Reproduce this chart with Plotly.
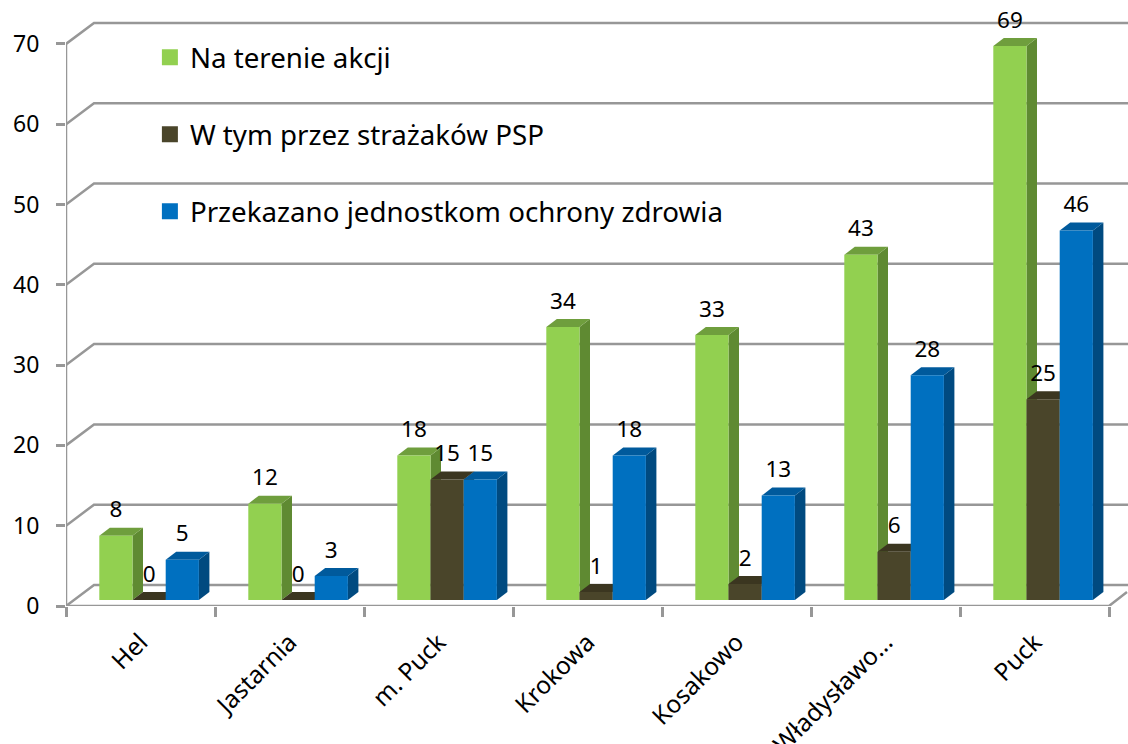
import plotly.graph_objects as go

categories = ["Hel", "Jastarnia", "m. Puck", "Krokowa", "Kosakowo", "Władysławo...", "Puck"]
na_terenie = [8, 12, 18, 34, 33, 43, 69]
strazacy = [0, 0, 15, 1, 2, 6, 25]
przekazano = [5, 3, 15, 18, 13, 28, 46]
y_ticks = [0, 10, 20, 30, 40, 50, 60, 70]

series = [
    ("Na terenie akcji", na_terenie, "#92D050", "#6F9E3D", "#5F8A32"),
    ("W tym przez strażaków PSP", strazacy, "#4A452A", "#3B3620", "#38331E"),
    ("Przekazano jednostkom ochrony zdrowia", przekazano, "#0070C0", "#005A9C", "#004A80"),
]

PX_X = 149.0
PX_Y = 8.03
L, B, W, H = 66, 138, 1128, 744
XMAX = (W - L) / PX_X
YMAX = (H - B) / PX_Y
GRID = "#979797"
FONT = "Noto Sans"

bar_w = 33.2 / PX_X
bar_start = 33.3 / PX_X
lift = 6 / PX_Y
side_dx = 10.5 / PX_X
side_dy = 8 / PX_Y
wall_dx = 28 / PX_X
wall_dy = 21 / PX_Y
label_gap = 24 / PX_Y

fig = go.Figure()

for v in y_ticks:
    fig.add_trace(go.Scatter(
        x=[0, wall_dx, XMAX], y=[v, v + wall_dy, v + wall_dy], mode="lines",
        line=dict(color=GRID, width=2.5), showlegend=False, hoverinfo="skip", cliponaxis=False))

fig.add_trace(go.Scatter(
    x=[0, 7, 7 + 18 / PX_X], y=[0, 0, 14 / PX_Y], mode="lines",
    line=dict(color=GRID, width=2.5), showlegend=False, hoverinfo="skip", cliponaxis=False))
fig.add_trace(go.Scatter(
    x=[0, 0], y=[0, y_ticks[-1]], mode="lines",
    line=dict(color=GRID, width=2.5), showlegend=False, hoverinfo="skip", cliponaxis=False))

for s, (name, vals, front, top, side) in enumerate(series):
    for c, v in enumerate(vals):
        x0 = c + bar_start + s * bar_w
        x1 = x0 + bar_w
        y0, y1 = lift, lift + v
        fig.add_trace(go.Scatter(
            x=[x1, x1 + side_dx, x1 + side_dx, x1, x1],
            y=[y0, y0 + side_dy, y1 + side_dy, y1, y0],
            mode="lines", fill="toself", fillcolor=side, line=dict(width=0),
            showlegend=False, hoverinfo="skip"))
        fig.add_trace(go.Scatter(
            x=[x0, x1, x1 + side_dx, x0 + side_dx, x0],
            y=[y1, y1, y1 + side_dy, y1 + side_dy, y1],
            mode="lines", fill="toself", fillcolor=top, line=dict(width=0),
            showlegend=False, hoverinfo="skip"))

for s, (name, vals, front, top, side) in enumerate(series):
    fig.add_trace(go.Bar(
        x=[c + bar_start + (s + 0.5) * bar_w for c in range(len(vals))],
        y=vals, base=lift, width=bar_w, name=name,
        marker=dict(color=front, line=dict(width=0)),
        showlegend=False, xaxis="x2", yaxis="y2"))

for s, (name, vals, front, top, side) in enumerate(series):
    fig.add_trace(go.Scatter(
        x=[c + bar_start + (s + 0.5) * bar_w for c in range(len(vals))],
        y=[v + lift + label_gap for v in vals],
        text=[str(v) for v in vals], mode="text", textposition="middle center",
        textfont=dict(family=FONT, size=22.5, color="#000000"),
        showlegend=False, hoverinfo="skip", cliponaxis=False, xaxis="x2", yaxis="y2"))

for name, vals, front, top, side in series:
    fig.add_trace(go.Scatter(
        x=[None], y=[None], mode="markers", name=name, legendgroup=name,
        marker=dict(symbol="square", size=16, color=front), xaxis="x2", yaxis="y2"))

fig.update_layout(
    width=W, height=H,
    margin=dict(l=L, r=0, t=0, b=B, pad=0),
    paper_bgcolor="#FFFFFF", plot_bgcolor="#FFFFFF",
    barmode="overlay",
    font=dict(family=FONT, color="#000000", size=23),
    xaxis=dict(
        range=[0, XMAX], showgrid=False, zeroline=False, showline=False,
        tickmode="array", tickvals=[c + 0.5 for c in range(len(categories))],
        ticktext=categories, tickangle=-45, ticks="", tickfont=dict(family=FONT, size=24.5),
        ticklabelstandoff=16,
        minor=dict(tickmode="array", tickvals=list(range(len(categories) + 1)),
                   ticks="outside", ticklen=10, tickwidth=2.5, tickcolor=GRID, showgrid=False),
        automargin=False),
    yaxis=dict(
        range=[0, YMAX], showgrid=False, zeroline=False, showline=False,
        tickmode="array", tickvals=y_ticks, ticks="outside", ticklen=9, tickwidth=2.5,
        tickcolor=GRID, tickfont=dict(family=FONT, size=23), automargin=False,
        ticklabelstandoff=12),
    xaxis2=dict(overlaying="x", matches="x", visible=False),
    yaxis2=dict(overlaying="y", matches="y", visible=False),
    legend=dict(
        x=0.079, y=0.946, xanchor="left", yanchor="top", bgcolor="rgba(0,0,0,0)",
        font=dict(family=FONT, size=27.7, color="#000000"), tracegroupgap=38,
        itemclick=False, itemdoubleclick=False),
    showlegend=True,
)

fig.write_html("out.html", config={"displayModeBar": False},
               post_script="document.body.style.margin='0';document.body.style.overflow='hidden';")
